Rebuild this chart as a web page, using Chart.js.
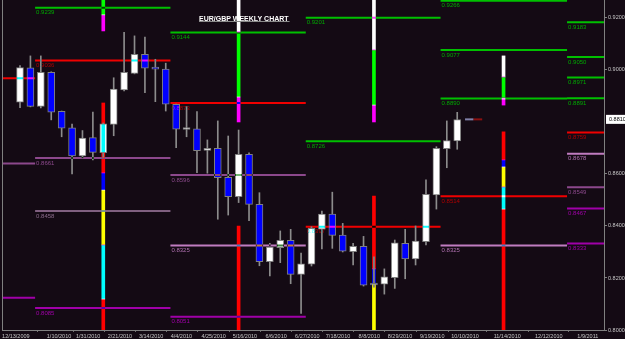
<!DOCTYPE html>
<html>
<head>
<meta charset="utf-8">
<script src="https://cdn.jsdelivr.net/npm/chart.js@4.4.1/dist/chart.umd.min.js"></script>
<style>
  html, body { margin: 0; padding: 0; background: #140a14; }
  #wrap { width: 625px; height: 339px; position: relative; }
</style>
</head>
<body>
<div id="wrap"><canvas id="eurgbp"></canvas></div>
<script>
// weekly candles, one per week starting 12/13/2009
const opens = [0.8876, 0.9008, 0.8860, 0.8991, 0.8841, 0.8777, 0.8669, 0.8740, 0.8682, 0.8791, 0.8923, 0.8987, 0.9060, 0.9009, 0.9003, 0.8868, 0.8771, 0.8774, 0.8691, 0.8699, 0.8587, 0.8513, 0.8676, 0.8483, 0.8263, 0.8317, 0.8345, 0.8214, 0.8253, 0.8388, 0.8446, 0.8365, 0.8301, 0.8322, 0.8179, 0.8176, 0.8201, 0.8333, 0.8273, 0.8340, 0.8519, 0.8697, 0.8727];
const closes = [0.9009, 0.8860, 0.8991, 0.8838, 0.8776, 0.8669, 0.8738, 0.8683, 0.8793, 0.8926, 0.8991, 0.9060, 0.9007, 0.9003, 0.8868, 0.8772, 0.8774, 0.8690, 0.8699, 0.8586, 0.8513, 0.8676, 0.8483, 0.8263, 0.8319, 0.8345, 0.8214, 0.8254, 0.8391, 0.8446, 0.8364, 0.8303, 0.8322, 0.8172, 0.8173, 0.8204, 0.8335, 0.8273, 0.8342, 0.8522, 0.8699, 0.8728, 0.8809];
const highs = [0.9017, 0.9054, 0.9054, 0.8993, 0.8842, 0.8792, 0.8767, 0.8838, 0.8796, 0.8970, 0.9145, 0.9131, 0.9126, 0.9041, 0.9026, 0.8869, 0.8859, 0.8840, 0.8731, 0.8804, 0.8746, 0.8769, 0.8681, 0.8528, 0.8333, 0.8381, 0.8387, 0.8296, 0.8397, 0.8457, 0.8530, 0.8410, 0.8333, 0.8360, 0.8281, 0.8235, 0.8346, 0.8387, 0.8400, 0.8577, 0.8705, 0.8804, 0.8837];
const lows = [0.8855, 0.8858, 0.8854, 0.8808, 0.8743, 0.8600, 0.8662, 0.8654, 0.8662, 0.8747, 0.8919, 0.8985, 0.8913, 0.8878, 0.8842, 0.8701, 0.8743, 0.8605, 0.8603, 0.8426, 0.8442, 0.8490, 0.8420, 0.8247, 0.8208, 0.8259, 0.8178, 0.8064, 0.8246, 0.8312, 0.8314, 0.8300, 0.8250, 0.8169, 0.8165, 0.8138, 0.8160, 0.8197, 0.8250, 0.8327, 0.8465, 0.8624, 0.8695];
const lastPrice = 0.8810;

const dateLabels = ["12/13/2009", "1/10/2010", "1/31/2010", "2/21/2010", "3/14/2010", "4/4/2010", "4/25/2010", "5/16/2010", "6/6/2010", "6/27/2010", "7/18/2010", "8/8/2010", "8/29/2010", "9/19/2010", "10/10/2010", "11/14/2010", "12/12/2010", "1/9/2011"];
const dateTicks = [-0.4, 3.75, 6.55, 9.6, 12.6, 15.5, 18.6, 21.6, 24.6, 27.6, 30.55, 33.55, 36.5, 39.6, 42.75, 46.8, 50.8, 54.55];
const priceTicks = [0.80, 0.82, 0.84, 0.86, 0.90, 0.92];

// pivot periods, in weeks
const periodEdges = [-2, 1.45, 14.45, 27.45, 40.4, 52.55, 57];

// [period, level]
const greenLevels = [[1, 0.9239], [2, 0.9144], [3, 0.9201], [3, 0.8726], [4, 0.9266], [4, 0.9077], [4, 0.8890], [5, 0.9183], [5, 0.9050], [5, 0.8971], [5, 0.8891]];
const redLevels = [[0, 0.8968], [1, 0.9036], [2, 0.8873], [3, 0.8397], [4, 0.8514], [5, 0.8759]];
const violetLevels = [[0, 0.8640], [1, 0.8661], [2, 0.8596], [5, 0.8549]];
const mauveLevels = [[1, 0.8458]];
const plumLevels = [[2, 0.8325], [4, 0.8325], [5, 0.8678]];
const magentaLevels = [[0, 0.8124], [1, 0.8085], [2, 0.8051], [5, 0.8467], [5, 0.8333]];

// vertical range bars
const pivotWeeks = [8, 21, 34, 46.45];
const upperEdges = [
  [0.9350, 0.9275, 0.9212, 0.9150],
  [0.9350, 0.9146, 0.8896, 0.8800],
  [0.9350, 0.9077, 0.8865, 0.8800],
  [0.9054, 0.8973, 0.8892, 0.8865],
];
const lowerEdges = [
  [0.8873, 0.8604, 0.8538, 0.8327, 0.8119, 0.7800],
  [0.8400, 0.7800, 0.7700, 0.7600, 0.7500, 0.7400],
  [0.8515, 0.8235, 0.8177, 0.7800, 0.7700, 0.7600],
  [0.8762, 0.8654, 0.8627, 0.8550, 0.8465, 0.7800],
];
const upperColors = ["#ffffff", "#00ff00", "#ff00ff"];
const lowerColors = ["#ff0000", "#0000ff", "#ffff00", "#00ffff", "#ff0000"];

const levelGroups = [
  { levels: greenLevels, color: "#00c000", text: "#00a800" },
  { levels: redLevels, color: "#f00000", text: "#b00000" },
  { levels: violetLevels, color: "#8c488c", text: "#8c488c" },
  { levels: mauveLevels, color: "#806080", text: "#8a6a8a" },
  { levels: plumLevels, color: "#c07cc0", text: "#b070b0" },
  { levels: magentaLevels, color: "#a000a8", text: "#a000a8" },
];

function levelPoints(levels) {
  const pts = [];
  levels.forEach(([p, v]) => {
    pts.push({ x: periodEdges[p], y: v }, { x: periodEdges[p + 1], y: v }, { x: periodEdges[p + 1], y: null });
  });
  return pts;
}

const verticalData = [];
const verticalColors = [];
pivotWeeks.forEach((w, k) => {
  const up = upperEdges[k];
  for (let j = 0; j < up.length - 1; j++) {
    verticalData.push({ x: w, y: [up[j + 1], up[j]] });
    verticalColors.push(upperColors[j]);
  }
  const lo = lowerEdges[k];
  for (let j = 0; j < lo.length - 1; j++) {
    verticalData.push({ x: w, y: [lo[j + 1], lo[j]] });
    verticalColors.push(lowerColors[j]);
  }
});

const candleIdx = opens.map((o, i) => i);

const datasets = [
  {
    type: "bar",
    data: candleIdx.map(i => ({ x: i, y: [lows[i], highs[i]] })),
    backgroundColor: "#8c8c8c",
    barThickness: 1,
    grouped: false,
    order: 6,
  },
  {
    type: "bar",
    data: candleIdx.map(i => ({ x: i, y: [opens[i], closes[i]] })),
    backgroundColor: candleIdx.map(i => (closes[i] >= opens[i] ? "#ffffff" : "#0000ff")),
    borderColor: "#808080",
    borderWidth: 1,
    borderSkipped: false,
    barThickness: 7,
    minBarLength: 2,
    grouped: false,
    order: 5,
  },
];

levelGroups.forEach(g => {
  datasets.push({
    type: "line",
    data: levelPoints(g.levels),
    borderColor: g.color,
    borderWidth: 2,
    pointRadius: 0,
    spanGaps: false,
    clip: 0,
    blend: true,
    order: 2,
  });
});

datasets.push({
  type: "bar",
  data: verticalData,
  backgroundColor: verticalColors,
  barThickness: 3,
  grouped: false,
  clip: 0,
  blend: true,
  order: 1,
});

// last price marker just right of the final candle
const n = opens.length;
datasets.push({
  type: "line",
  data: [{ x: n - 0.25, y: lastPrice }, { x: n + 0.55, y: lastPrice }],
  borderColor: "#8080a8",
  borderWidth: 2,
  pointRadius: 0,
  order: 0,
});
datasets.push({
  type: "line",
  data: [{ x: n + 0.55, y: lastPrice }, { x: n + 1.4, y: lastPrice }],
  borderColor: "#8b1010",
  borderWidth: 2,
  pointRadius: 0,
  order: 0,
});

const blendPlugin = {
  id: "blend",
  beforeDatasetDraw(chart, args) {
    if (chart.data.datasets[args.index].blend) {
      chart.ctx.save();
      chart.ctx.globalCompositeOperation = "difference";
    }
  },
  afterDatasetDraw(chart, args) {
    if (chart.data.datasets[args.index].blend) chart.ctx.restore();
  },
};

const decorPlugin = {
  id: "decor",
  afterDatasetsDraw(chart) {
    const { ctx, chartArea, scales } = chart;
    const xs = scales.x, ys = scales.y;
    ctx.save();
    ctx.beginPath();
    ctx.rect(chartArea.left, chartArea.top, chartArea.right - chartArea.left, chartArea.bottom - chartArea.top);
    ctx.clip();
    ctx.globalCompositeOperation = "difference";
    ctx.font = '6px "Liberation Sans"';
    ctx.textBaseline = "top";
    levelGroups.forEach(g => {
      ctx.fillStyle = g.text;
      g.levels.forEach(([p, v]) => {
        if (p === 0) return;
        ctx.fillText(v.toFixed(4), xs.getPixelForValue(periodEdges[p]) + 1, ys.getPixelForValue(v) + 2);
      });
    });
    ctx.restore();

    ctx.save();
    // left border
    ctx.strokeStyle = "#808080";
    ctx.lineWidth = 1;
    ctx.beginPath();
    ctx.moveTo(chartArea.left + 0.5, chartArea.top);
    ctx.lineTo(chartArea.left + 0.5, chartArea.bottom);
    ctx.stroke();

    // title
    ctx.font = 'bold 7px "Liberation Sans"';
    ctx.textBaseline = "alphabetic";
    const title = "EUR/GBP WEEKLY CHART";
    const tw = ctx.measureText(title).width;
    ctx.fillStyle = "#8a8a8a";
    ctx.fillRect(199, 21, tw + 1, 1);
    ctx.fillStyle = "#ffffff";
    ctx.fillText(title, 199, 20.5);

    // last price box on the price axis
    const py = ys.getPixelForValue(lastPrice);
    ctx.fillStyle = "#ffffff";
    ctx.fillRect(chartArea.right + 2, py - 4.5, 20, 9);
    ctx.fillStyle = "#000000";
    ctx.font = '5.5px "Liberation Sans"';
    ctx.textBaseline = "middle";
    ctx.fillText(lastPrice.toFixed(4), chartArea.right + 5, py);
    ctx.restore();
  },
};

new Chart(document.getElementById("eurgbp"), {
  type: "bar",
  data: { datasets },
  options: {
    responsive: true,
    maintainAspectRatio: false,
    animation: false,
    devicePixelRatio: 1,
    layout: { padding: { left: 2, top: 0, right: 0, bottom: 0 } },
    plugins: { legend: { display: false }, tooltip: { enabled: false } },
    scales: {
      x: {
        type: "linear",
        offset: false,
        min: -1.73,
        max: 56.1,
        afterFit(scale) {
          scale.height = 9;
          scale.paddingLeft = 0;
          scale.paddingRight = 0;
        },
        afterBuildTicks(scale) { scale.ticks = dateTicks.map(v => ({ value: v })); },
        ticks: {
          autoSkip: false,
          maxRotation: 0,
          padding: 1,
          color: "#c8c8c8",
          font: { family: "Liberation Sans", size: 5.5 },
          callback: (v, i) => dateLabels[i],
        },
        grid: { drawOnChartArea: false, tickLength: 2, color: "#707070" },
        border: { color: "#808080" },
      },
      y: {
        type: "linear",
        position: "right",
        min: 0.80,
        max: 0.9269,
        afterFit(scale) {
          scale.width = 21;
          scale.paddingTop = 0;
          scale.paddingBottom = 0;
        },
        afterBuildTicks(scale) { scale.ticks = priceTicks.map(v => ({ value: v })); },
        ticks: {
          padding: 1,
          color: "#c8c8c8",
          font: { family: "Liberation Sans", size: 5.5 },
          callback: v => v.toFixed(4),
        },
        grid: { drawOnChartArea: false, tickLength: 3, color: "#808080" },
        border: { color: "#808080" },
      },
    },
  },
  plugins: [blendPlugin, decorPlugin],
});
</script>
</body>
</html>
